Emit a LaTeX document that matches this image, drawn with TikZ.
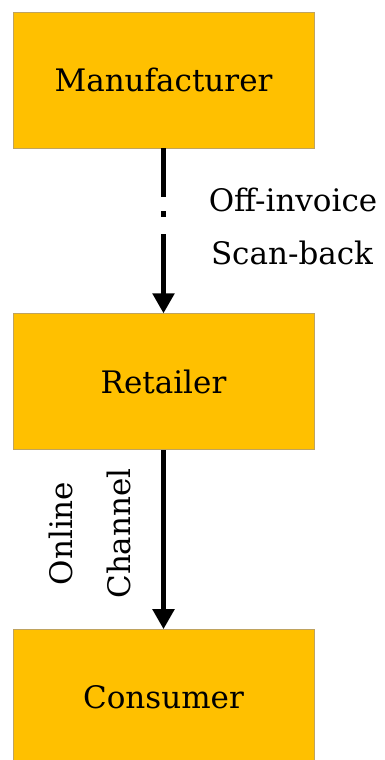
\documentclass[tikz,border=0pt]{standalone}
\usepackage{fontspec}
\setmainfont{DejaVu Serif}
\usetikzlibrary{arrows.meta,positioning}
\definecolor{boxfill}{HTML}{FFC000}
\definecolor{boxline}{HTML}{BFA35F}

\begin{document}
\begin{tikzpicture}[x=1pt,y=1pt,
    party/.style={draw=boxline, line width=0.8pt, fill=boxfill,
        minimum width=301pt, minimum height=136pt, inner sep=0pt,
        font=\fontsize{31}{36}\selectfont},
    flow/.style={line width=5pt, -{Triangle[length=20pt,width=21pt]}},
    lbl/.style={font=\fontsize{31}{36}\selectfont}]
    \useasboundingbox (0,0) rectangle (385,-760);

    % the three parties, one under the other
    \node[party] (man) at (163.5,-80) {Manufacturer};
    \node[party, below=165pt of man] (ret) {Retailer};
    \node[party, below=179pt of ret] (con) {Consumer};

    % trade deals: dash-dot line, then solid into the retailer
    \draw[flow, dash pattern={on 49pt off 14pt on 6pt off 17pt on 300pt}] (man) -- (ret);
    \draw[flow] (ret) -- (con);

    \node[lbl, anchor=base] (offinv) at (293,-211) {Off-invoice};
    \node[lbl, anchor=base] (scanb) at (292,-264) {Scan-back};

    % sideways labels left of the lower arrow
    \node[lbl, rotate=90, anchor=base] (online) at (72,-533.5) {Online};
    \node[lbl, rotate=90, anchor=base] (channel) at (130,-533.5) {Channel};
\end{tikzpicture}
\end{document}
